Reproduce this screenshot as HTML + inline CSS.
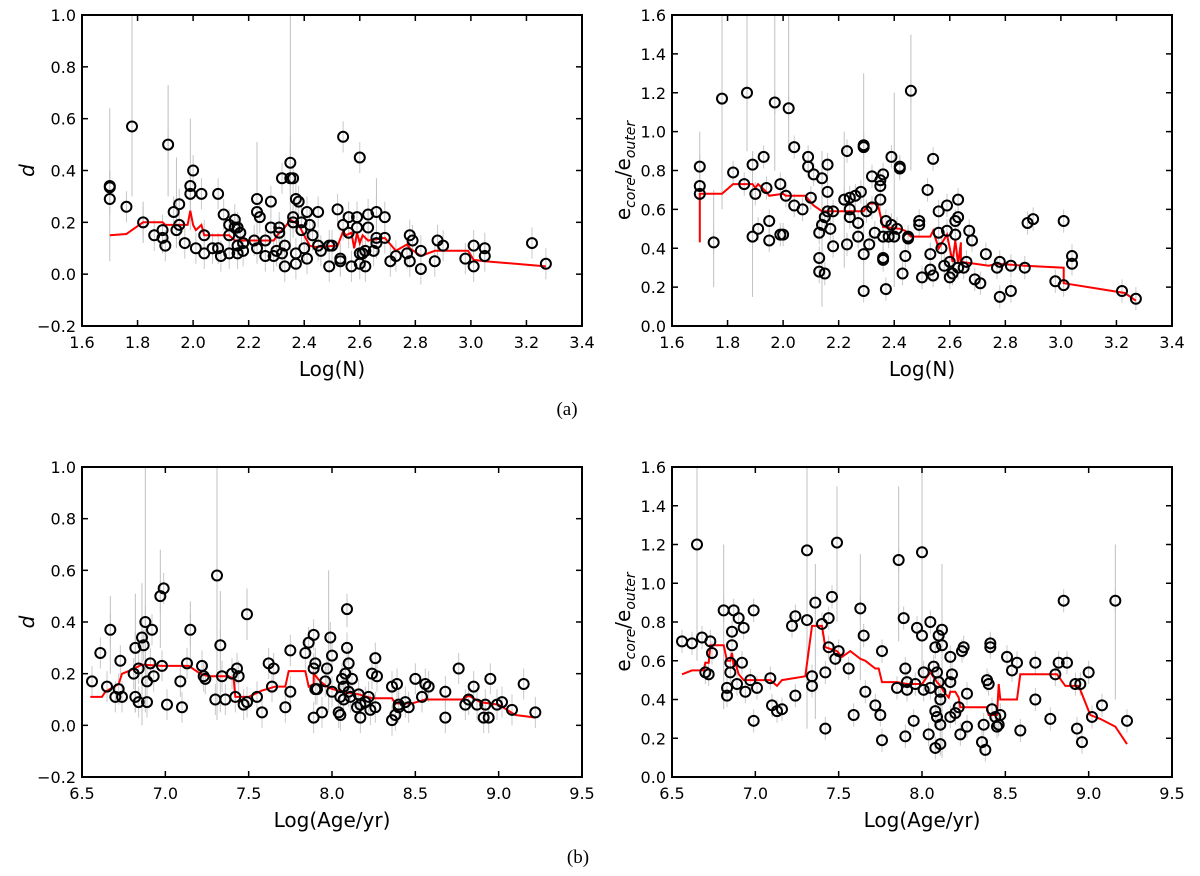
<!DOCTYPE html>
<html><head><meta charset="utf-8">
<style>
html,body{margin:0;padding:0;background:#fff;}
svg{display:block;font-family:"DejaVu Sans","Liberation Sans",sans-serif;}
</style></head>
<body>
<svg id="fig" width="1200" height="876" viewBox="0 0 1200 876" xmlns="http://www.w3.org/2000/svg"></svg>
<script>
// ---------- data: top-left (d vs Log N) ----------
const tlPoints=[[1.70,0.34],[1.70,0.335],[1.70,0.29],[1.76,0.26],[1.78,0.57],[1.82,0.20],[1.86,0.15],[1.89,0.17],[1.89,0.14],[1.90,0.11],[1.91,0.50],[1.93,0.24],[1.94,0.17],[1.95,0.19],[1.95,0.27],[1.97,0.12],[1.99,0.34],[1.99,0.31],[2.00,0.40],[2.01,0.10],[2.03,0.31],[2.04,0.08],[2.04,0.15],[2.07,0.10],[2.09,0.31],[2.09,0.10],[2.10,0.07],[2.11,0.23],[2.13,0.19],[2.13,0.15],[2.13,0.08],[2.15,0.21],[2.15,0.18],[2.16,0.08],[2.16,0.18],[2.17,0.16],[2.18,0.12],[2.18,0.09],[2.16,0.11],[2.22,0.13],[2.23,0.29],[2.23,0.24],[2.23,0.10],[2.24,0.22],[2.26,0.13],[2.26,0.07],[2.28,0.28],[2.28,0.18],[2.29,0.07],[2.30,0.09],[2.31,0.18],[2.31,0.16],[2.32,0.37],[2.32,0.08],[2.33,0.03],[2.33,0.11],[2.35,0.43],[2.35,0.37],[2.36,0.37],[2.36,0.20],[2.36,0.22],[2.37,0.29],[2.38,0.28],[2.37,0.08],[2.37,0.04],[2.39,0.20],[2.39,0.17],[2.40,0.10],[2.41,0.24],[2.41,0.06],[2.42,0.19],[2.43,0.15],[2.45,0.11],[2.45,0.24],[2.46,0.09],[2.49,0.11],[2.49,0.03],[2.50,0.11],[2.52,0.25],[2.53,0.06],[2.53,0.05],[2.54,0.19],[2.54,0.53],[2.56,0.16],[2.56,0.22],[2.57,0.03],[2.59,0.22],[2.59,0.18],[2.60,0.45],[2.60,0.08],[2.60,0.04],[2.61,0.08],[2.62,0.03],[2.62,0.09],[2.63,0.23],[2.63,0.18],[2.65,0.09],[2.66,0.12],[2.66,0.24],[2.66,0.14],[2.69,0.22],[2.69,0.14],[2.71,0.05],[2.73,0.07],[2.77,0.08],[2.78,0.05],[2.78,0.15],[2.79,0.13],[2.82,0.09],[2.82,0.02],[2.87,0.05],[2.88,0.13],[2.90,0.11],[2.98,0.06],[3.01,0.11],[3.01,0.03],[3.05,0.10],[3.05,0.07],[3.22,0.12],[3.27,0.04]];
const tlLine=[[1.70,0.15],[1.76,0.155],[1.82,0.20],[1.89,0.20],[1.90,0.19],[1.98,0.19],[1.99,0.245],[2.00,0.19],[2.01,0.17],[2.03,0.19],[2.04,0.15],[2.13,0.15],[2.15,0.13],[2.20,0.13],[2.29,0.13],[2.31,0.16],[2.33,0.18],[2.35,0.21],[2.38,0.19],[2.40,0.15],[2.42,0.11],[2.44,0.105],[2.52,0.11],[2.54,0.165],[2.55,0.15],[2.57,0.16],[2.58,0.10],[2.59,0.16],[2.60,0.12],[2.61,0.15],[2.63,0.13],[2.69,0.14],[2.73,0.09],[2.77,0.115],[2.78,0.10],[2.82,0.07],[2.87,0.09],[2.99,0.09],[3.01,0.055],[3.05,0.05],[3.27,0.03]];
const tlErr=[[1.78,0.30,1.0],[1.70,0.05,0.64],[1.91,0.30,0.73],[2.35,0.08,1.0],[2.35,0.30,0.53],[2.23,0.05,0.51],[1.99,0.17,0.60],[1.94,0.10,0.45],[2.66,0.12,0.37],[1.82,0.12,0.28]];
const tlXTicks=[1.6,1.8,2.0,2.2,2.4,2.6,2.8,3.0,3.2,3.4];
const tlYTicks=[-0.2,0.0,0.2,0.4,0.6,0.8,1.0];

// ---------- data: top-right (e ratio vs Log N) ----------
const trPoints=[[1.70,0.82],[1.70,0.72],[1.70,0.68],[1.75,0.43],[1.78,1.17],[1.82,0.79],[1.86,0.73],[1.87,1.20],[1.89,0.83],[1.89,0.46],[1.90,0.68],[1.91,0.50],[1.93,0.87],[1.94,0.71],[1.95,0.44],[1.95,0.54],[1.97,1.15],[1.99,0.73],[1.99,0.47],[2.00,0.47],[2.01,0.67],[2.02,1.12],[2.04,0.92],[2.04,0.62],[2.07,0.60],[2.09,0.87],[2.09,0.82],[2.10,0.66],[2.11,0.78],[2.13,0.35],[2.13,0.48],[2.13,0.28],[2.14,0.76],[2.14,0.52],[2.15,0.27],[2.15,0.56],[2.16,0.69],[2.16,0.59],[2.16,0.83],[2.17,0.50],[2.18,0.59],[2.18,0.41],[2.22,0.65],[2.23,0.90],[2.23,0.42],[2.24,0.60],[2.24,0.56],[2.24,0.66],[2.26,0.67],[2.27,0.46],[2.27,0.53],[2.28,0.69],[2.29,0.18],[2.29,0.37],[2.29,0.93],[2.29,0.92],[2.30,0.59],[2.31,0.42],[2.32,0.61],[2.32,0.77],[2.33,0.48],[2.35,0.75],[2.35,0.72],[2.35,0.65],[2.36,0.35],[2.36,0.34],[2.36,0.78],[2.36,0.46],[2.37,0.19],[2.37,0.54],[2.38,0.46],[2.39,0.52],[2.39,0.87],[2.40,0.46],[2.41,0.50],[2.42,0.81],[2.42,0.82],[2.43,0.27],[2.44,0.36],[2.45,0.46],[2.45,0.45],[2.46,1.21],[2.49,0.54],[2.49,0.52],[2.50,0.25],[2.52,0.70],[2.53,0.37],[2.53,0.29],[2.54,0.26],[2.54,0.86],[2.56,0.48],[2.56,0.59],[2.57,0.40],[2.58,0.31],[2.59,0.62],[2.59,0.49],[2.60,0.33],[2.60,0.25],[2.61,0.27],[2.62,0.54],[2.62,0.47],[2.63,0.65],[2.63,0.56],[2.63,0.30],[2.65,0.30],[2.66,0.33],[2.67,0.49],[2.68,0.44],[2.69,0.24],[2.71,0.22],[2.73,0.37],[2.77,0.30],[2.78,0.33],[2.78,0.15],[2.82,0.31],[2.82,0.18],[2.87,0.30],[2.88,0.53],[2.90,0.55],[2.98,0.23],[3.01,0.54],[3.01,0.21],[3.04,0.36],[3.04,0.32],[3.22,0.18],[3.27,0.14]];
const trLine=[[1.70,0.43],[1.70,0.68],[1.78,0.68],[1.82,0.73],[1.89,0.73],[1.90,0.71],[1.91,0.73],[1.94,0.69],[1.95,0.67],[2.00,0.68],[2.01,0.67],[2.08,0.67],[2.11,0.62],[2.14,0.59],[2.29,0.59],[2.31,0.63],[2.34,0.63],[2.36,0.51],[2.42,0.50],[2.44,0.49],[2.46,0.46],[2.53,0.46],[2.54,0.49],[2.56,0.40],[2.59,0.47],[2.61,0.33],[2.62,0.44],[2.63,0.32],[2.64,0.43],[2.64,0.33],[2.69,0.32],[2.74,0.31],[2.77,0.32],[2.87,0.31],[3.01,0.30],[3.01,0.22],[3.23,0.17],[3.27,0.13]];
const trErr=[[1.78,0.6,1.6],[1.87,0.9,1.6],[1.97,0.8,1.6],[2.02,0.9,1.6],[1.89,0.15,0.9],[2.29,0.2,1.3],[2.46,0.8,1.5],[2.22,0.3,1.0],[2.14,0.1,0.9],[2.40,0.2,1.2],[1.75,0.2,0.7],[1.70,0.45,1.0]];
const trXTicks=[1.6,1.8,2.0,2.2,2.4,2.6,2.8,3.0,3.2,3.4];
const trYTicks=[0.0,0.2,0.4,0.6,0.8,1.0,1.2,1.4,1.6];

// ---------- data: bottom-left (d vs Log Age) ----------
const blPoints=[[6.56,0.17],[6.61,0.28],[6.65,0.15],[6.67,0.37],[6.70,0.11],[6.72,0.14],[6.73,0.25],[6.74,0.11],[6.81,0.20],[6.82,0.30],[6.82,0.11],[6.84,0.22],[6.84,0.09],[6.86,0.34],[6.87,0.31],[6.88,0.40],[6.89,0.17],[6.89,0.09],[6.91,0.24],[6.92,0.37],[6.93,0.19],[6.97,0.50],[6.99,0.53],[6.98,0.23],[7.01,0.08],[7.09,0.17],[7.10,0.07],[7.13,0.24],[7.15,0.37],[7.22,0.23],[7.23,0.19],[7.24,0.18],[7.30,0.10],[7.31,0.58],[7.33,0.31],[7.34,0.19],[7.36,0.10],[7.40,0.20],[7.42,0.11],[7.43,0.22],[7.44,0.19],[7.47,0.08],[7.49,0.09],[7.49,0.43],[7.55,0.11],[7.58,0.05],[7.62,0.24],[7.65,0.22],[7.64,0.15],[7.72,0.07],[7.75,0.13],[7.75,0.29],[7.84,0.28],[7.86,0.32],[7.89,0.35],[7.89,0.03],[7.89,0.22],[7.90,0.24],[7.90,0.14],[7.91,0.14],[7.94,0.05],[7.96,0.17],[7.97,0.22],[7.99,0.34],[8.00,0.27],[8.00,0.13],[8.04,0.05],[8.05,0.04],[8.05,0.11],[8.06,0.18],[8.07,0.15],[8.07,0.10],[8.08,0.20],[8.09,0.45],[8.09,0.30],[8.10,0.24],[8.10,0.13],[8.11,0.11],[8.12,0.18],[8.15,0.07],[8.16,0.12],[8.17,0.03],[8.17,0.08],[8.20,0.09],[8.22,0.11],[8.24,0.20],[8.23,0.06],[8.26,0.07],[8.26,0.26],[8.27,0.19],[8.36,0.02],[8.36,0.15],[8.38,0.04],[8.39,0.16],[8.40,0.08],[8.40,0.07],[8.44,0.09],[8.46,0.07],[8.50,0.18],[8.54,0.11],[8.56,0.16],[8.58,0.15],[8.68,0.03],[8.68,0.13],[8.76,0.22],[8.80,0.08],[8.82,0.10],[8.85,0.15],[8.87,0.08],[8.91,0.03],[8.92,0.08],[8.94,0.03],[8.95,0.18],[8.99,0.08],[9.02,0.09],[9.08,0.06],[9.15,0.16],[9.22,0.05]];
const blLine=[[6.55,0.11],[6.62,0.11],[6.64,0.13],[6.72,0.16],[6.74,0.20],[6.78,0.21],[6.86,0.235],[6.98,0.23],[7.14,0.23],[7.21,0.20],[7.26,0.19],[7.38,0.19],[7.41,0.18],[7.42,0.11],[7.50,0.11],[7.58,0.135],[7.66,0.15],[7.72,0.15],[7.74,0.21],[7.84,0.21],[7.86,0.15],[7.89,0.16],[7.89,0.20],[7.93,0.17],[7.98,0.145],[8.06,0.13],[8.16,0.12],[8.24,0.105],[8.36,0.105],[8.38,0.085],[8.48,0.085],[8.56,0.10],[8.78,0.10],[8.82,0.115],[8.89,0.09],[9.00,0.08],[9.10,0.04],[9.16,0.035],[9.22,0.03]];
const blErr=[[6.88,0.05,1.0],[6.86,0.0,0.55],[7.31,0.02,1.0],[6.97,0.30,0.68],[7.98,0.05,0.60],[6.67,0.20,0.50],[7.49,0.33,0.53],[7.33,0.05,0.52],[6.82,0.05,0.51],[7.15,0.22,0.48],[8.09,0.38,0.49]];
const blXTicks=[6.5,7.0,7.5,8.0,8.5,9.0,9.5];
const blYTicks=[-0.2,0.0,0.2,0.4,0.6,0.8,1.0];

// ---------- data: bottom-right (e ratio vs Log Age) ----------
const brPoints=[[6.56,0.70],[6.62,0.69],[6.65,1.20],[6.68,0.72],[6.70,0.54],[6.72,0.53],[6.73,0.70],[6.74,0.64],[6.81,0.86],[6.83,0.46],[6.83,0.42],[6.85,0.59],[6.85,0.54],[6.86,0.75],[6.86,0.68],[6.87,0.86],[6.89,0.48],[6.90,0.82],[6.92,0.59],[6.93,0.77],[6.94,0.44],[6.97,0.50],[6.99,0.29],[6.99,0.86],[7.01,0.46],[7.09,0.51],[7.10,0.37],[7.13,0.34],[7.16,0.35],[7.22,0.78],[7.24,0.83],[7.24,0.42],[7.31,0.81],[7.31,1.17],[7.34,0.47],[7.34,0.52],[7.36,0.90],[7.40,0.79],[7.42,0.25],[7.42,0.54],[7.44,0.67],[7.44,0.82],[7.46,0.93],[7.48,0.61],[7.49,1.21],[7.50,0.65],[7.56,0.56],[7.59,0.32],[7.63,0.87],[7.65,0.73],[7.66,0.44],[7.72,0.37],[7.75,0.32],[7.76,0.65],[7.76,0.19],[7.85,0.46],[7.86,1.12],[7.89,0.82],[7.90,0.56],[7.90,0.21],[7.91,0.49],[7.91,0.45],[7.95,0.29],[7.96,0.48],[7.97,0.77],[8.00,0.73],[8.00,1.16],[8.01,0.54],[8.01,0.45],[8.04,0.22],[8.05,0.80],[8.05,0.46],[8.07,0.57],[8.08,0.15],[8.08,0.67],[8.08,0.34],[8.09,0.31],[8.09,0.54],[8.10,0.49],[8.10,0.73],[8.11,0.44],[8.11,0.40],[8.11,0.27],[8.11,0.17],[8.12,0.76],[8.12,0.68],[8.17,0.31],[8.17,0.49],[8.17,0.62],[8.18,0.53],[8.20,0.33],[8.22,0.36],[8.23,0.22],[8.24,0.65],[8.25,0.67],[8.27,0.43],[8.27,0.26],[8.36,0.18],[8.37,0.27],[8.38,0.14],[8.39,0.50],[8.40,0.48],[8.41,0.69],[8.41,0.67],[8.42,0.35],[8.44,0.31],[8.45,0.26],[8.46,0.27],[8.47,0.32],[8.51,0.62],[8.54,0.55],[8.57,0.59],[8.59,0.24],[8.68,0.59],[8.68,0.40],[8.77,0.30],[8.80,0.53],[8.82,0.59],[8.85,0.91],[8.87,0.59],[8.92,0.48],[8.93,0.25],[8.95,0.48],[8.96,0.18],[9.00,0.54],[9.02,0.31],[9.08,0.37],[9.16,0.91],[9.23,0.29]];
const brLine=[[6.56,0.53],[6.62,0.55],[6.69,0.55],[6.70,0.59],[6.72,0.59],[6.73,0.68],[6.81,0.68],[6.83,0.60],[6.85,0.60],[6.86,0.64],[6.87,0.57],[6.88,0.59],[6.90,0.53],[6.93,0.50],[6.97,0.50],[7.09,0.50],[7.13,0.47],[7.16,0.50],[7.30,0.52],[7.34,0.78],[7.40,0.78],[7.42,0.67],[7.49,0.65],[7.52,0.62],[7.57,0.65],[7.63,0.61],[7.66,0.60],[7.72,0.56],[7.74,0.56],[7.76,0.49],[7.85,0.49],[7.91,0.48],[8.00,0.48],[8.05,0.54],[8.09,0.49],[8.11,0.47],[8.14,0.43],[8.16,0.41],[8.17,0.44],[8.20,0.44],[8.22,0.41],[8.23,0.36],[8.39,0.36],[8.40,0.32],[8.45,0.32],[8.46,0.48],[8.47,0.40],[8.57,0.40],[8.59,0.53],[8.81,0.53],[8.86,0.47],[8.94,0.47],[9.01,0.32],[9.07,0.30],[9.16,0.26],[9.23,0.17]];
const brErr=[[6.65,0.6,1.6],[7.31,0.25,1.6],[7.49,0.8,1.5],[7.86,0.7,1.5],[8.00,0.5,1.6],[9.16,0.4,1.2],[7.63,0.5,1.15],[8.12,0.1,1.1],[6.81,0.35,1.2],[7.36,0.3,1.1]];
const brXTicks=[6.5,7.0,7.5,8.0,8.5,9.0,9.5];
const brYTicks=[0.0,0.2,0.4,0.6,0.8,1.0,1.2,1.4,1.6];

const NS="http://www.w3.org/2000/svg";
const svg=document.getElementById('fig');
function mk(tag,attrs,parent){const e=document.createElementNS(NS,tag);for(const k in attrs)e.setAttribute(k,attrs[k]);(parent||svg).appendChild(e);return e;}
function fmt(v){return (v<0?'\u2212':'')+Math.abs(v).toFixed(1);}

function panel(id,box,xd,yd,xt,yt,pts,line,errs,xlabel,ylabelType){
  const g=mk('g',{});
  
  
  const X=v=>box.x0+(v-xd[0])/(xd[1]-xd[0])*(box.x1-box.x0);
  const Y=v=>box.y1-(v-yd[0])/(yd[1]-yd[0])*(box.y1-box.y0);
  const clip=mk('clipPath',{id:'clip-'+id},g);
  mk('rect',{x:box.x0,y:box.y0,width:box.x1-box.x0,height:box.y1-box.y0},clip);
  const data=mk('g',{'clip-path':'url(#clip-'+id+')'},g);
  // error bars: default short bars on each point
  pts.forEach(p=>{
    const l=mk('line',{x1:X(p[0]),x2:X(p[0]),y1:Y(p[1]-0.06),y2:Y(p[1]+0.06),stroke:'#c8c8c8','stroke-width':1},data);
    
    
  });
  errs.forEach(e=>{
    const l=mk('line',{x1:X(e[0]),x2:X(e[0]),y1:Y(e[1]),y2:Y(e[2]),stroke:'#c0c0c0','stroke-width':1},data);
    
    
  });
  const pl=mk('polyline',{points:line.map(p=>X(p[0]).toFixed(1)+','+Y(p[1]).toFixed(1)).join(' '),fill:'none',stroke:'#ff0000','stroke-width':2},data);
  
  
  pts.forEach(p=>{
    const c=mk('circle',{cx:X(p[0]),cy:Y(p[1]),r:5,fill:'none',stroke:'#000','stroke-width':2},data);
    
    
  });
  // frame
  const fr=mk('rect',{x:box.x0,y:box.y0,width:box.x1-box.x0,height:box.y1-box.y0,fill:'none',stroke:'#000','stroke-width':2},g);
  
  
  xt.forEach(v=>{
    const x=X(v);
    mk('line',{x1:x,x2:x,y1:box.y1,y2:box.y1-6,stroke:'#000','stroke-width':1.5},g);
    mk('line',{x1:x,x2:x,y1:box.y0,y2:box.y0+6,stroke:'#000','stroke-width':1.5},g);
    const t=mk('text',{x:x,y:box.y1+22,'text-anchor':'middle','font-size':16},g);
    t.textContent=fmt(v);
    
    
  });
  yt.forEach(v=>{
    const y=Y(v);
    mk('line',{x1:box.x0,x2:box.x0+6,y1:y,y2:y,stroke:'#000','stroke-width':1.5},g);
    mk('line',{x1:box.x1,x2:box.x1-6,y1:y,y2:y,stroke:'#000','stroke-width':1.5},g);
    const t=mk('text',{x:box.x0-6,y:y+6,'text-anchor':'end','font-size':16},g);
    t.textContent=fmt(v);
    
    
  });
  const xl=mk('text',{x:(box.x0+box.x1)/2,y:box.y1+50,'text-anchor':'middle','font-size':20},g);
  xl.textContent=xlabel;
  
  
  const cy=(box.y0+box.y1)/2;
  if(ylabelType==='d'){
    const yl=mk('text',{x:0,y:0,'text-anchor':'middle','font-size':20,'font-style':'italic',transform:'translate('+(box.x0-48)+','+cy+') rotate(-90)'},g);
    yl.textContent='d';
    
    
  } else {
    const yl=mk('text',{x:0,y:0,'text-anchor':'middle','font-size':20,transform:'translate('+(box.x0-42)+','+cy+') rotate(-90)'},g);
    
    
    const a=mk('tspan',{},yl);a.textContent='e';
    const b=mk('tspan',{'font-size':14,'font-style':'italic',dy:5},yl);b.textContent='core';
    const c=mk('tspan',{dy:-5},yl);c.textContent='/e';
    const d=mk('tspan',{'font-size':14,'font-style':'italic',dy:5},yl);d.textContent='outer';
  }
}

panel('top-left',{x0:82,x1:582,y0:15,y1:326},[1.6,3.4],[-0.2,1.0],tlXTicks,tlYTicks,tlPoints,tlLine,tlErr,'Log(N)','d');
panel('top-right',{x0:672,x1:1172,y0:15,y1:326},[1.6,3.4],[0,1.6],trXTicks,trYTicks,trPoints,trLine,trErr,'Log(N)','e');
panel('bottom-left',{x0:82,x1:582,y0:467,y1:777},[6.5,9.5],[-0.2,1.0],blXTicks,blYTicks,blPoints,blLine,blErr,'Log(Age/yr)','d');
panel('bottom-right',{x0:672,x1:1172,y0:467,y1:777},[6.5,9.5],[0,1.6],brXTicks,brYTicks,brPoints,brLine,brErr,'Log(Age/yr)','e');

const la=mk('text',{x:567,y:415,'text-anchor':'middle','font-size':19,'font-family':'"Liberation Serif",serif'});
la.textContent='(a)';


const lb=mk('text',{x:578,y:863,'text-anchor':'middle','font-size':19,'font-family':'"Liberation Serif",serif'});
lb.textContent='(b)';


</script>
</body></html>
